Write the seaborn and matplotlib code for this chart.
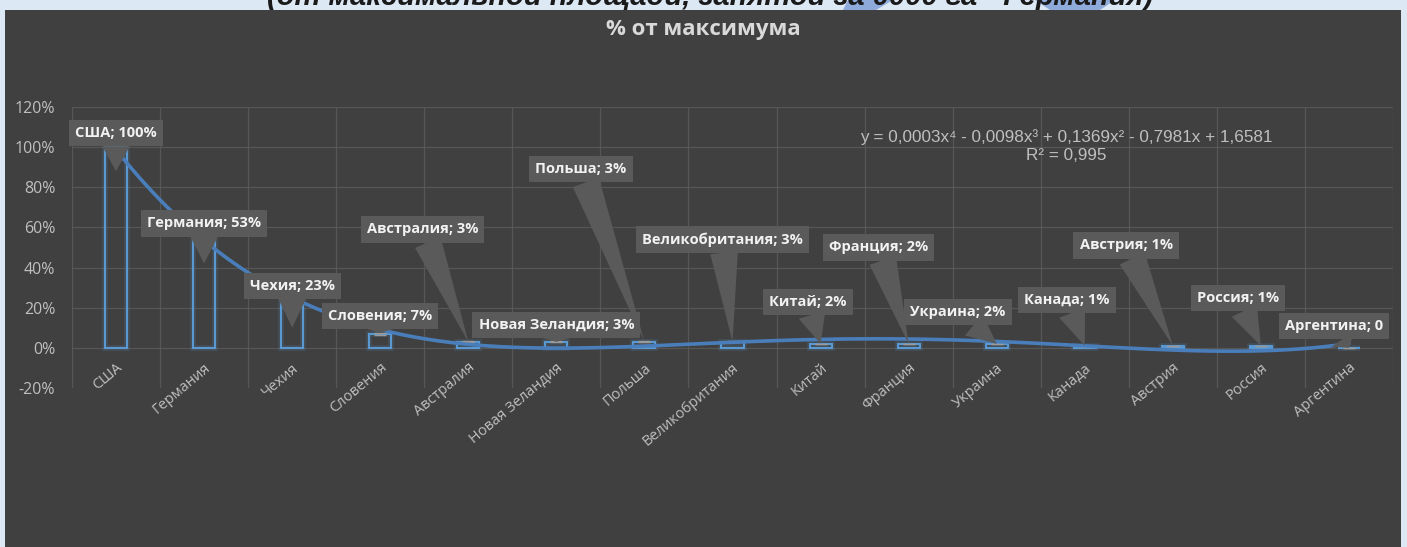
import matplotlib
matplotlib.use("Agg")
import matplotlib.pyplot as plt
import matplotlib.patheffects as pe
from matplotlib.patches import Rectangle, Polygon
import numpy as np
import seaborn as sns

# data
countries = ["США", "Германия", "Чехия", "Словения", "Австралия", "Новая Зеландия", "Польша",
             "Великобритания", "Китай", "Франция", "Украина", "Канада", "Австрия", "Россия", "Аргентина"]
share = [100, 53, 23, 7, 3, 3, 3, 3, 2, 2, 2, 1, 1, 1, 0]
err = [5, 2.6, 1.2, 0.4, 0.2, 0.2, 0.2, 0.2, 0.1, 0.1, 0.1, 0.1, 0.1, 0.1, 0]
yticks = [-20, 0, 20, 40, 60, 80, 100, 120]

# callout placement (category offset, label height, arrow tip height)
label_dx = [0, 0, 0, 0, -0.52, 0, -0.72, -0.11, -0.14, -0.34, -0.44, -0.2, -0.53, -0.26, -0.17]
label_y = [107, 62, 31, 16, 59, 11.5, 89, 54, 23, 50, 18, 24, 51, 25, 11]
tip_y = [88, 42, 10, 7.5, 3, 3, 3, 3, 2, 2, 2, 1, 1, 1, 0]

sns.set_theme(style="dark")
plt.rcParams["font.family"] = ["Open Sans", "DejaVu Sans"]

BG = "#404040"
BLUE = "#5b9bd5"
GRID = "#575757"
TXT = "#bfbfbf"
BOX = "#5a5a5a"

W, H = 1407, 547
fig = plt.figure(figsize=(W / 100, H / 100), dpi=100, facecolor="#dde8f5")
fig.patches.append(Rectangle((5 / W, 0), 1396 / W, 537 / H, transform=fig.transFigure,
                             fc=BG, ec="none", zorder=-1))
# bits of the slide decoration peeking out above the chart
for pts in ([(848, 0), (893, 0), (876, 10), (843, 10)],
            [(1035, 0), (1115, 0), (1100, 10), (1050, 10)]):
    fig.patches.append(Polygon([(x / W, 1 - y / H) for x, y in pts], closed=True,
                               transform=fig.transFigure, fc="#8eaadb", ec="none", zorder=-3))

# cut-off slide heading above the chart
fig.text(0.505, 1 - 5 / H, "(от максимальной площади, занятой за 0000 га - Германия)",
         ha="center", va="baseline", fontsize=21, fontweight="bold", style="italic",
         color="#1a1a1a", family=["Liberation Sans", "DejaVu Sans"], zorder=-2)

ax = fig.add_axes([72 / W, 1 - 388 / H, (1393 - 72) / W, (388 - 107) / H])
ax.set_facecolor(BG)

sns.barplot(x=countries, y=share, ax=ax, fill=False, width=0.25, color=BLUE,
            linewidth=1.4, errorbar=None, zorder=3)
for p in ax.patches:
    p.set_edgecolor(BLUE)
    p.set_path_effects([pe.Stroke(linewidth=4, foreground=BLUE, alpha=0.18), pe.Normal()])

ax.errorbar(range(len(share)), share, yerr=err, fmt="none", ecolor="#9a9a9a",
            elinewidth=1, capsize=4, zorder=4)

# polynomial (order 4) trendline, as in the original
sns.regplot(x=np.arange(len(share)), y=share, order=4, ci=None, scatter=False, truncate=True,
            ax=ax, line_kws=dict(color="#4a7ebb", lw=2.6, zorder=5))

ax.set_xlim(-0.5, len(share) - 0.5)
ax.set_ylim(-20, 120)
ax.set_xlabel("")
ax.set_ylabel("")
ax.set_yticks(yticks)
ax.set_yticklabels([f"{v}%" for v in yticks])
ax.set_xticks(range(len(countries)))
ax.set_xticklabels(countries, rotation=40, ha="right", va="top", rotation_mode="anchor")
ax.set_xticks(np.arange(-0.5, len(share), 1), minor=True)
ax.grid(axis="y", which="major", color=GRID, lw=0.9)
ax.grid(axis="x", which="minor", color=GRID, lw=0.9)
ax.grid(axis="x", which="major", visible=False)
ax.tick_params(axis="y", length=0, pad=12, labelsize=11.5, labelcolor=TXT)
ax.tick_params(axis="x", which="both", length=0, pad=-20, labelsize=10.5, labelcolor=TXT)
for s in ax.spines.values():
    s.set_visible(False)

for i, name in enumerate(countries):
    lbl = "0" if share[i] == 0 else f"{share[i]}%"
    ax.annotate(f"{name}; {lbl}", xy=(i, tip_y[i]), xytext=(i + label_dx[i], label_y[i]),
                ha="center", va="center", fontsize=10.5, fontweight="bold", color="#f2f2f2",
                bbox=dict(boxstyle="square,pad=0.42", fc=BOX, ec="none"),
                arrowprops=dict(arrowstyle="wedge,tail_width=1.9,shrink_factor=0.5",
                                fc=BOX, ec="none", shrinkA=0, shrinkB=0),
                zorder=6)

fig.text(0.5, 1 - 30 / H, "% от максимума", ha="center", va="center", fontsize=16,
         fontweight="bold", color="#d9d9d9")
fig.text(1066 / W, 1 - 137 / H, "y = 0,0003x⁴ - 0,0098x³ + 0,1369x² - 0,7981x + 1,6581",
         ha="center", va="center", fontsize=12.3, color=TXT,
         family=["Liberation Sans", "DejaVu Sans"])
fig.text(1066 / W, 1 - 156 / H, "R² = 0,995", ha="center", va="center", fontsize=12.3,
         color=TXT, family=["Liberation Sans", "DejaVu Sans"])

fig.savefig("out.png", dpi=100, facecolor=fig.get_facecolor())
